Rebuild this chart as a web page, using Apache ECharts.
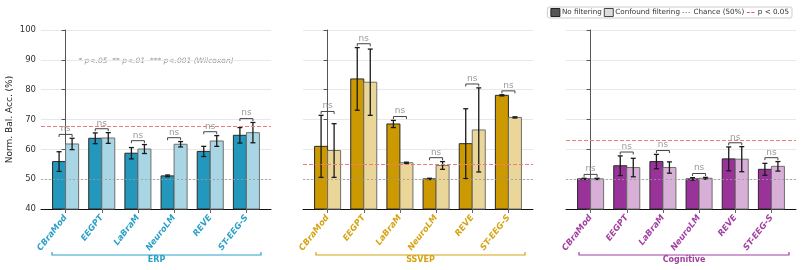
<!DOCTYPE html>
<html>
<head>
<meta charset="utf-8">
<script src="https://cdn.jsdelivr.net/npm/echarts@6.0.0/dist/echarts.min.js"></script>
<style>
  html, body { margin: 0; padding: 0; background: #fff; }
  #chart { width: 802px; height: 270px; }
</style>
</head>
<body>
<div id="chart"></div>
<script>
// models on the x axis of each panel
const models = ['CBraMod', 'EEGPT', 'LaBraM', 'NeuroLM', 'REVE', 'ST-EEG-S']
const yTicks = [40, 50, 60, 70, 80, 90, 100]

// ERP
const erpNoFilt = [55.9, 63.7, 58.7, 51.1, 59.3, 64.7]
const erpNoFiltStd = [3.3, 1.8, 1.9, 0.3, 1.7, 2.6]
const erpConf = [61.8, 63.8, 60.1, 61.7, 62.8, 65.6]
const erpConfStd = [1.9, 1.8, 1.5, 0.9, 1.8, 3.4]

// SSVEP
const ssvepNoFilt = [61.0, 83.6, 68.5, 50.1, 61.9, 78.1]
const ssvepNoFiltStd = [10.4, 10.5, 1.2, 0.2, 11.7, 0.2]
const ssvepConf = [59.6, 82.5, 55.5, 54.6, 66.5, 70.7]
const ssvepConfStd = [9.0, 11.1, 0.2, 1.3, 14.1, 0.2]

// Cognitive
const cogNoFilt = [50.1, 54.5, 55.9, 50.1, 56.8, 53.3]
const cogNoFiltStd = [0.2, 3.3, 2.4, 0.4, 4.0, 2.0]
const cogConf = [50.1, 53.9, 53.9, 50.3, 56.7, 54.3]
const cogConfStd = [0.2, 3.1, 1.9, 0.3, 4.2, 1.6]

const sigLabels = ['ns', 'ns', 'ns', 'ns', 'ns', 'ns']
const chanceLevel = 50
const pThreshold = [67.8, 55.0, 63.1]
const groupNames = ['ERP', 'SSVEP', 'Cognitive']

const panels = [
  { noFilt: erpNoFilt, noFiltStd: erpNoFiltStd, conf: erpConf, confStd: erpConfStd,
    dark: '#2397bc', light: '#a9d6e4', text: '#2aa0c8', left: 41 },
  { noFilt: ssvepNoFilt, noFiltStd: ssvepNoFiltStd, conf: ssvepConf, confStd: ssvepConfStd,
    dark: '#cc9900', light: '#ebd699', text: '#d6a313', left: 303 },
  { noFilt: cogNoFilt, noFiltStd: cogNoFiltStd, conf: cogConf, confStd: cogConfStd,
    dark: '#993399', light: '#d7afd7', text: '#a23ea2', left: 566 },
]

const BAR_FRAC = 0.36

function barRender(side, color, border) {
  return function (params, api) {
    const idx = api.value(0)
    const top = api.coord([idx, api.value(1)])
    const base = api.coord([idx, yTicks[0]])
    const w = api.size([1, 0])[0] * BAR_FRAC
    const x = side < 0 ? top[0] - w : top[0]
    return {
      type: 'rect',
      shape: { x: x, y: top[1], width: w, height: base[1] - top[1] },
      style: { fill: color, stroke: border, lineWidth: 1 },
    }
  }
}

function errRender(params, api) {
  const idx = api.value(0)
  const mean = api.value(1)
  const sd = api.value(2)
  const side = api.value(3)
  const w = api.size([1, 0])[0] * BAR_FRAC
  const cx = api.coord([idx, mean])[0] + side * w / 2
  const hi = api.coord([idx, mean + sd])[1]
  const lo = api.coord([idx, mean - sd])[1]
  const cap = 2.5
  const st = { stroke: '#1a1a1a', lineWidth: 1.3 }
  return {
    type: 'group',
    children: [
      { type: 'line', shape: { x1: cx, y1: hi, x2: cx, y2: lo }, style: st },
      { type: 'line', shape: { x1: cx - cap, y1: hi, x2: cx + cap, y2: hi }, style: st },
      { type: 'line', shape: { x1: cx - cap, y1: lo, x2: cx + cap, y2: lo }, style: st },
    ],
  }
}

function bracketRender(params, api) {
  const idx = api.value(0)
  const p = api.coord([idx, api.value(1)])
  const w = api.size([1, 0])[0] * BAR_FRAC
  const x1 = p[0] - w / 2
  const x2 = p[0] + w / 2
  const y = p[1]
  return {
    type: 'group',
    children: [
      { type: 'polyline', shape: { points: [[x1, y + 2.5], [x1, y], [x2, y], [x2, y + 2.5]] },
        style: { stroke: '#444', lineWidth: 1, fill: null } },
      { type: 'text', style: { x: p[0], y: y - 1, text: sigLabels[params.dataIndex],
        fill: '#9a9a9a', font: '9px "DejaVu Sans"', align: 'center', verticalAlign: 'bottom' } },
    ],
  }
}

const grid = []
const xAxis = []
const yAxis = []
const series = []

panels.forEach((pn, g) => {
  grid.push({ left: pn.left, top: 30, width: 230, height: 179 })
  xAxis.push({
    type: 'value', gridIndex: g, min: -0.68, max: 5.68,
    splitLine: { show: false },
    axisLine: { lineStyle: { color: '#111', width: 1 } },
    axisTick: { customValues: [0, 1, 2, 3, 4, 5], length: 4, lineStyle: { color: '#666' } },
    axisLabel: {
      customValues: [0, 1, 2, 3, 4, 5],
      formatter: (v) => models[Math.round(v)],
      rotate: 52, margin: 7,
      color: pn.text, fontSize: 8.5, fontStyle: 'italic', fontWeight: 'bold',
      fontFamily: 'DejaVu Sans',
    },
  })
  yAxis.push({
    type: 'value', gridIndex: g, min: yTicks[0], max: yTicks[yTicks.length - 1], interval: 10,
    name: g === 0 ? 'Norm. Bal. Acc. (%)' : '',
    nameLocation: 'middle', nameGap: 27,
    nameTextStyle: { fontSize: 9, color: '#222', fontFamily: 'DejaVu Sans' },
    axisLine: { show: true, lineStyle: { color: '#555', width: 1 } },
    axisTick: { show: true, length: 4, lineStyle: { color: '#555' } },
    axisLabel: { show: g === 0, fontSize: 8.5, color: '#333', margin: 5, fontFamily: 'DejaVu Sans' },
    splitLine: { show: true, lineStyle: { color: '#e8e8e8', width: 1 } },
  })

  // reference lines
  series.push({
    name: 'Chance (50%)', type: 'line', xAxisIndex: g, yAxisIndex: g, data: [],
    symbol: 'none', color: '#999', lineStyle: { color: '#999', type: [2, 2], width: 1 },
    markLine: {
      silent: true, symbol: 'none', label: { show: false },
      lineStyle: { color: '#999', type: [2, 2], width: 0.8 },
      data: [{ yAxis: chanceLevel }],
    },
    z: 1,
  })
  series.push({
    name: 'p < 0.05', type: 'line', xAxisIndex: g, yAxisIndex: g, data: [],
    symbol: 'none', color: '#e8525e', lineStyle: { color: '#e8525e', type: [3, 2], width: 1.2 },
    markLine: {
      silent: true, symbol: 'none', label: { show: false },
      lineStyle: { color: '#ee7a84', type: [4, 2], width: 1.2 },
      data: [{ yAxis: pThreshold[g] }],
    },
    z: 1,
  })

  series.push({
    name: 'No filtering', type: 'custom', xAxisIndex: g, yAxisIndex: g,
    renderItem: barRender(-1, pn.dark, '#2a2a2a'),
    data: pn.noFilt.map((v, i) => [i, v]), encode: { x: 0, y: 1 }, z: 3,
  })
  series.push({
    name: 'Confound filtering', type: 'custom', xAxisIndex: g, yAxisIndex: g,
    renderItem: barRender(1, pn.light, '#6f6f6f'),
    data: pn.conf.map((v, i) => [i, v]), encode: { x: 0, y: 1 }, z: 3,
  })
  series.push({
    type: 'custom', xAxisIndex: g, yAxisIndex: g, renderItem: errRender,
    data: pn.noFilt.map((v, i) => [i, v, pn.noFiltStd[i], -1])
      .concat(pn.conf.map((v, i) => [i, v, pn.confStd[i], 1])),
    encode: { x: 0, y: 1 }, z: 4, silent: true,
  })
  series.push({
    type: 'custom', xAxisIndex: g, yAxisIndex: g, renderItem: bracketRender,
    data: pn.noFilt.map((v, i) =>
      [i, Math.max(v + pn.noFiltStd[i], pn.conf[i] + pn.confStd[i]) + 1.3]),
    encode: { x: 0, y: 1 }, z: 5, silent: true,
  })
})

// group brackets under each panel
const groupSpans = [[52, 261], [316, 525], [579, 789]]
const graphic = [{
  type: 'text', x: 156, y: 61,
  style: { text: '* p<.05  ** p<.01  *** p<.001 (Wilcoxon)', fill: '#999',
    font: 'italic 7.5px "DejaVu Sans"', align: 'center', verticalAlign: 'middle' },
}]
groupSpans.forEach((s, g) => {
  graphic.push({
    type: 'polyline', shape: { points: [[s[0], 252], [s[0], 255], [s[1], 255], [s[1], 252]] },
    style: { stroke: panels[g].text, lineWidth: 1.2, fill: null },
  })
  graphic.push({
    type: 'text', x: (s[0] + s[1]) / 2, y: 256,
    style: { text: groupNames[g], fill: panels[g].text, font: 'bold 8px "DejaVu Sans"',
      align: 'center', verticalAlign: 'top' },
  })
})

const hidden = 'rgba(0,0,0,0)'
const chart = echarts.init(document.getElementById('chart'), null, { renderer: 'canvas' })
chart.setOption({
  animation: false,
  textStyle: { fontFamily: 'DejaVu Sans' },
  legend: {
    right: 10, top: 7,
    itemWidth: 9, itemHeight: 8, itemGap: 2,
    padding: [1, 3], borderColor: '#ccc', borderWidth: 1, borderRadius: 2,
    selectedMode: false,
    textStyle: { fontSize: 7.2, color: '#333', padding: [0, 0, 0, -3] },
    data: [
      { name: 'No filtering', icon: 'rect', itemStyle: { color: '#555', borderColor: '#222', borderWidth: 1 } },
      { name: 'Confound filtering', icon: 'rect', itemStyle: { color: '#ddd', borderColor: '#444', borderWidth: 1 } },
      { name: 'Chance (50%)', itemStyle: { color: hidden, borderColor: hidden, borderWidth: 0 },
        lineStyle: { color: '#999', type: [1.5, 1.5], width: 1 } },
      { name: 'p < 0.05', itemStyle: { color: hidden, borderColor: hidden, borderWidth: 0 },
        lineStyle: { color: '#e8525e', type: [3, 1.5], width: 1.2 } },
    ],
  },
  grid: grid,
  xAxis: xAxis,
  yAxis: yAxis,
  series: series,
  graphic: graphic,
})
</script>
</body>
</html>
